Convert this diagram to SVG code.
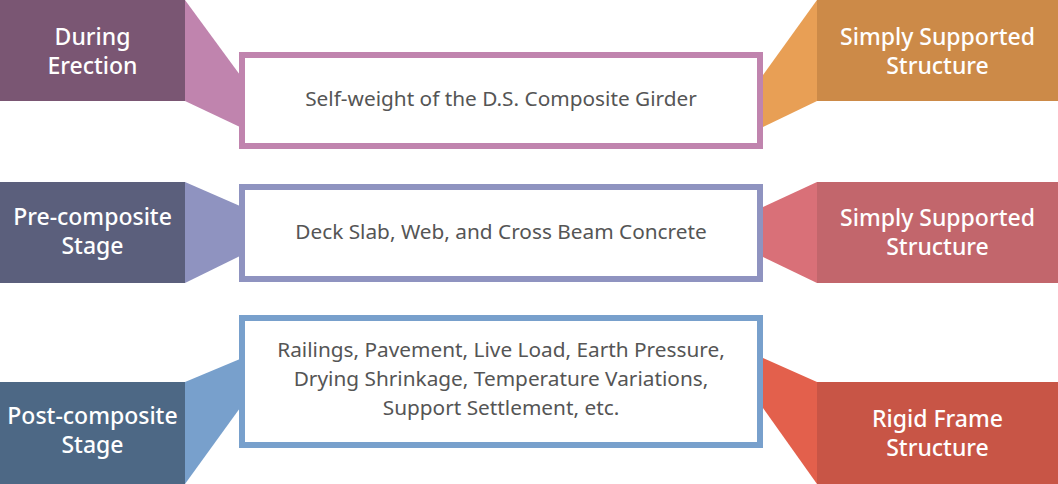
<svg xmlns="http://www.w3.org/2000/svg" width="1058" height="484" viewBox="0 0 1058 484">
<style>
.lbl{font-family:"Noto Sans","Liberation Sans",sans-serif;font-size:23px;font-weight:500;fill:#ffffff;text-anchor:middle}
.txt{font-family:"Noto Sans","Liberation Sans",sans-serif;font-size:20.8px;fill:#555555;text-anchor:middle}
.box{fill:#ffffff;stroke-width:6}
</style>
<rect width="1058" height="484" fill="#ffffff"/>
<g id="connectors">
<polygon points="185,0 240,75 240,127 185,101" fill="#c084ae"/>
<polygon points="763,75 817,0 817,101 763,127" fill="#e89f55"/>
<polygon points="185,182 240,206 240,256 185,283" fill="#8f93c0"/>
<polygon points="763,207 817,182 817,283 763,257" fill="#d97078"/>
<polygon points="185,382 240,359 240,408 185,484" fill="#78a0cc"/>
<polygon points="763,358 817,382 817,484 763,408" fill="#e3604c"/>
</g>
<g id="during-erection">
<rect x="0" y="0" width="185" height="101" fill="#7a5673"/>
<text class="lbl" x="92.5" y="45">During</text>
<text class="lbl" x="92.5" y="74">Erection</text>
</g>
<g id="pre-composite">
<rect x="0" y="182" width="185" height="101" fill="#5b5f7c"/>
<text class="lbl" x="92.5" y="225">Pre-composite</text>
<text class="lbl" x="92.5" y="254">Stage</text>
</g>
<g id="post-composite">
<rect x="0" y="382" width="185" height="102" fill="#4d6885"/>
<text class="lbl" x="92.5" y="424">Post-composite</text>
<text class="lbl" x="92.5" y="453">Stage</text>
</g>
<g id="simply-supported-1">
<rect x="817" y="0" width="241" height="101" fill="#cc8a48"/>
<text class="lbl" x="937.5" y="45">Simply Supported</text>
<text class="lbl" x="937.5" y="74">Structure</text>
</g>
<g id="simply-supported-2">
<rect x="817" y="182" width="241" height="101" fill="#c2666c"/>
<text class="lbl" x="937.5" y="226">Simply Supported</text>
<text class="lbl" x="937.5" y="255">Structure</text>
</g>
<g id="rigid-frame">
<rect x="817" y="382" width="241" height="102" fill="#c85546"/>
<text class="lbl" x="937.5" y="427">Rigid Frame</text>
<text class="lbl" x="937.5" y="456">Structure</text>
</g>
<g id="load-1">
<rect class="box" x="242" y="55" width="518" height="91" stroke="#c084ae"/>
<text class="txt" x="501" y="106">Self-weight of the D.S. Composite Girder</text>
</g>
<g id="load-2">
<rect class="box" x="242" y="187" width="518" height="92" stroke="#8f93c0"/>
<text class="txt" x="501" y="239">Deck Slab, Web, and Cross Beam Concrete</text>
</g>
<g id="load-3">
<rect class="box" x="242" y="318" width="518" height="127" stroke="#78a0cc"/>
<text class="txt" x="501" y="357">Railings, Pavement, Live Load, Earth Pressure,</text>
<text class="txt" x="501" y="386">Drying Shrinkage, Temperature Variations,</text>
<text class="txt" x="501" y="415">Support Settlement, etc.</text>
</g>
</svg>
